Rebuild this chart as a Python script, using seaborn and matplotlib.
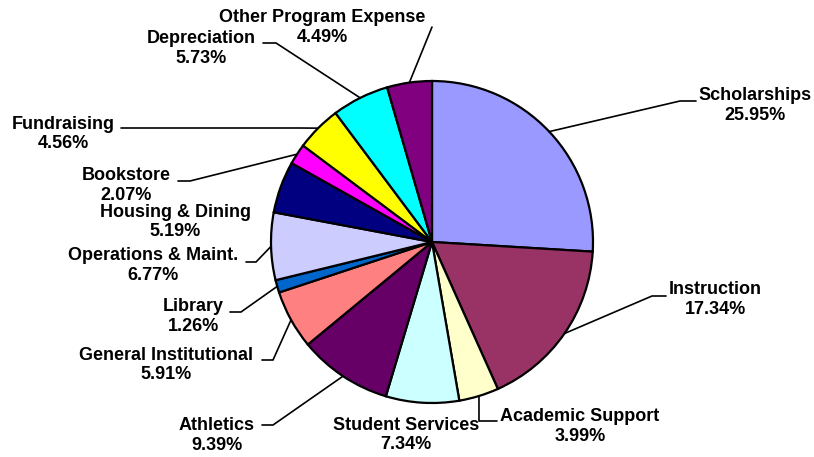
import numpy as np
import matplotlib
matplotlib.use("Agg")
import matplotlib.pyplot as plt
import seaborn as sns

# expense categories, clockwise from 12 o'clock
categories = ["Scholarships", "Instruction", "Academic Support", "Student Services",
              "Athletics", "General Institutional", "Library", "Operations & Maint.",
              "Housing & Dining", "Bookstore", "Fundraising", "Depreciation",
              "Other Program Expense"]
shares = [25.95, 17.34, 3.99, 7.34, 9.39, 5.91, 1.26, 6.77, 5.19, 2.07, 4.56, 5.73, 4.49]
colors = ["#9999FF", "#993366", "#FFFFCC", "#CCFFFF", "#660066", "#FF8080", "#0066CC",
          "#CCCCFF", "#000080", "#FF00FF", "#FFFF00", "#00FFFF", "#800080"]

# label layout in figure pixels (from top-left): text centre, elbow of leader, stub end
# None -> no leader line
label_pos = [(755, 105.5), (715, 299.5), (580, 426.5), (406, 435), (217, 435.5),
             (166, 365), (193, 316.5), (153, 265.5), (175, 222), (126, 185.5),
             (63, 134), (201, 48.5), (322, 27.5)]
leaders = [((680, 101), (696, 101)), ((652, 296), (666, 296)), ((479, 421), (497, 421)),
           None, ((273, 425), (262, 425)), ((273, 360), (262, 360)),
           ((241, 312), (230, 312)), ((256, 262), (246, 262)), None,
           ((190, 181), (178, 181)), ((300, 128), (121, 128)), ((276, 43), (263, 43)),
           ((432, 27), (432, 27))]

W, H = 814, 457
CX, CY, R = 432, 242, 161


def px(p):
    return ((p[0] - CX) / R, (CY - p[1]) / R)


sns.set_theme(style="white")
plt.rcParams["font.family"] = ["Liberation Sans", "DejaVu Sans"]

fig = plt.figure(figsize=(W / 100, H / 100), dpi=100)
ax = fig.add_axes([0, 0, 1, 1])

wedges, _ = ax.pie(shares, colors=colors, startangle=90, counterclock=False, radius=1,
                   wedgeprops=dict(edgecolor="black", linewidth=1.6))

for w, name, val, pos, ld in zip(wedges, categories, shares, label_pos, leaders):
    tx, ty = px(pos)
    ax.text(tx, ty, f"{name}\n{val:.2f}%", ha="center", va="center",
            fontsize=13, fontweight="bold", color="black", linespacing=1.22)
    if ld is None:
        continue
    ang = np.deg2rad((w.theta1 + w.theta2) / 2)
    ax_, ay_ = np.cos(ang), np.sin(ang)
    ex, ey = px(ld[0])
    sx, sy = px(ld[1])
    ax.plot([ax_, ex, sx], [ay_, ey, sy], color="black", linewidth=1.2,
            solid_joinstyle="miter")

ax.set_xlim(-CX / R, (W - CX) / R)
ax.set_ylim(-(H - CY) / R, CY / R)
ax.set_aspect("auto")
ax.axis("off")

fig.savefig("out.png", dpi=100, facecolor="white")
